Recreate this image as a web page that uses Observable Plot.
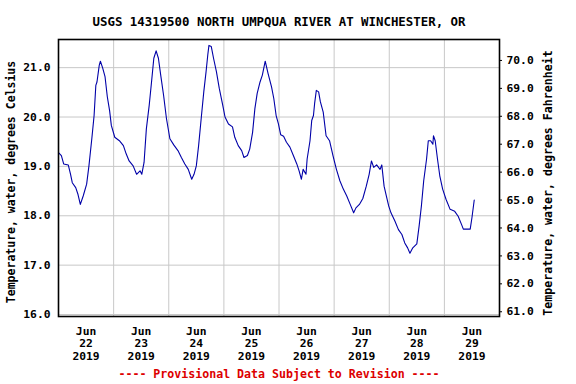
<!DOCTYPE html>
<html><head><meta charset="utf-8">
<script src="https://cdn.jsdelivr.net/npm/d3@7"></script>
<script src="https://cdn.jsdelivr.net/npm/@observablehq/plot@0.6"></script>
<style>html,body{margin:0;padding:0;background:#fff} svg{display:block}</style>
</head><body><div id="chart"></div>
<script>
const title = "USGS 14319500 NORTH UMPQUA RIVER AT WINCHESTER, OR";
const caption = "---- Provisional Data Subject to Revision ----";
const yLabelLeft = "Temperature, water, degrees Celsius";
const yLabelRight = "Temperature, water, degrees Fahrenheit";

const times = [
 "06-22T00:00","06-22T01:15","06-22T02:15","06-22T04:15","06-22T05:15","06-22T06:00","06-22T07:30","06-22T08:30","06-22T09:30","06-22T10:45","06-22T12:15","06-22T13:15","06-22T14:30","06-22T15:30","06-22T16:15","06-22T16:45","06-22T17:45","06-22T18:15","06-22T19:15","06-22T20:15","06-22T21:15","06-22T22:15","06-22T23:00",
 "06-23T00:30","06-23T02:30","06-23T04:15","06-23T05:30","06-23T06:45","06-23T08:30","06-23T10:00","06-23T11:30","06-23T12:15","06-23T13:15","06-23T14:15","06-23T15:30","06-23T16:30","06-23T17:30","06-23T18:30","06-23T19:30","06-23T20:30","06-23T21:45","06-23T23:00",
 "06-24T00:30","06-24T02:15","06-24T04:00","06-24T05:30","06-24T07:00","06-24T08:30","06-24T10:00","06-24T11:00","06-24T12:00","06-24T13:00","06-24T14:15","06-24T15:15","06-24T16:15","06-24T17:00","06-24T17:30","06-24T18:30","06-24T19:30","06-24T20:45","06-24T22:00","06-24T23:30",
 "06-25T00:30","06-25T02:00","06-25T03:45","06-25T04:45","06-25T06:15","06-25T07:45","06-25T08:45","06-25T10:15","06-25T11:15","06-25T12:30","06-25T13:30","06-25T14:30","06-25T15:45","06-25T16:45","06-25T18:00","06-25T19:15","06-25T20:45","06-25T21:45","06-25T22:45","06-25T23:45",
 "06-26T00:45","06-26T02:00","06-26T03:15","06-26T04:45","06-26T06:15","06-26T07:45","06-26T08:45","06-26T09:45","06-26T10:30","06-26T11:45","06-26T12:15","06-26T13:30","06-26T14:15","06-26T15:00","06-26T15:30","06-26T16:15","06-26T17:15","06-26T18:00","06-26T19:15","06-26T20:30","06-26T22:00","06-26T23:30",
 "06-27T01:00","06-27T02:30","06-27T04:00","06-27T05:30","06-27T07:00","06-27T08:30","06-27T09:30","06-27T11:00","06-27T12:30","06-27T14:00","06-27T15:15","06-27T16:15","06-27T17:15","06-27T18:30","06-27T20:00","06-27T20:45","06-27T21:45","06-27T22:45","06-27T23:45",
 "06-28T00:45","06-28T02:30","06-28T04:00","06-28T05:30","06-28T06:45","06-28T08:00","06-28T09:00","06-28T10:15","06-28T12:00","06-28T13:00","06-28T14:00","06-28T15:00","06-28T16:15","06-28T17:00","06-28T18:00","06-28T19:00","06-28T19:15","06-28T20:00","06-28T21:00","06-28T22:00","06-28T23:15",
 "06-29T00:45","06-29T02:30","06-29T04:30","06-29T06:00","06-29T07:30","06-29T08:15","06-29T11:15","06-29T12:00","06-29T13:00"
];
const tempC = [
 19.28,19.22,19.05,19.03,18.84,18.67,18.57,18.43,18.23,18.40,18.64,19.01,19.56,20.03,20.64,20.71,21.05,21.13,20.99,20.82,20.41,20.13,19.83,
 19.59,19.52,19.42,19.25,19.11,19.01,18.84,18.91,18.84,19.08,19.76,20.24,20.71,21.19,21.34,21.19,20.85,20.44,19.97,
 19.56,19.43,19.32,19.18,19.05,18.94,18.74,18.84,19.01,19.42,20.03,20.51,20.92,21.26,21.45,21.43,21.19,20.92,20.58,20.24,
 20.00,19.86,19.80,19.59,19.42,19.32,19.18,19.22,19.35,19.69,20.17,20.48,20.71,20.85,21.13,20.88,20.61,20.37,20.03,19.86,
 19.64,19.61,19.49,19.39,19.22,19.05,18.91,18.74,18.94,18.84,19.15,19.52,19.93,20.03,20.27,20.54,20.51,20.31,20.10,19.62,19.52,19.22,
 18.94,18.71,18.54,18.40,18.23,18.06,18.16,18.23,18.35,18.60,18.84,19.11,18.98,19.03,18.94,19.03,18.60,18.40,18.20,
 18.06,17.89,17.72,17.62,17.45,17.35,17.24,17.35,17.43,17.79,18.20,18.71,19.15,19.52,19.52,19.45,19.62,19.52,19.15,18.81,18.54,
 18.33,18.13,18.09,17.99,17.82,17.73,17.73,17.96,18.32
];

const cTicks = [16, 17, 18, 19, 20, 21];
const fTicks = [61, 62, 63, 64, 65, 66, 67, 68, 69, 70];
const days = [22, 23, 24, 25, 26, 27, 28, 29];
const cDomain = [15.96, 21.57];
const fDomain = [60.83, 70.75];

const data = times.map((t, i) => ({date: new Date(`2019-${t}:00Z`), c: tempC[i]}));
const fToC = f => cDomain[0] + (f - fDomain[0]) / (fDomain[1] - fDomain[0]) * (cDomain[1] - cDomain[0]);
const cToF = c => fDomain[0] + (c - cDomain[0]) / (cDomain[1] - cDomain[0]) * (fDomain[1] - fDomain[0]);
const noons = days.map(d => new Date(Date.UTC(2019, 5, d, 12)));
const midnights = days.slice(1).map(d => new Date(Date.UTC(2019, 5, d, 0)));

const chart = Plot.plot({
  width: 576,
  height: 384,
  marginLeft: 58,
  marginRight: 77,
  marginTop: 39,
  marginBottom: 68,
  style: {fontFamily: "'DejaVu Sans Mono', monospace", fontWeight: "bold", fontSize: "11.3px", color: "#000", background: "#fff"},
  x: {type: "utc", domain: [new Date(Date.UTC(2019, 5, 22)), new Date(Date.UTC(2019, 5, 30))]},
  y: {domain: cDomain},
  marks: [
    Plot.gridY({ticks: cTicks, stroke: "#c8c8c8", strokeOpacity: 1, strokeWidth: 1}),
    Plot.gridX({ticks: midnights, stroke: "#c8c8c8", strokeOpacity: 1, strokeWidth: 1}),
    Plot.line(data, {x: "date", y: "c", stroke: "#0000a8", strokeWidth: 1.1}),
    Plot.frame({stroke: "#000", strokeWidth: 1.6}),
    Plot.axisY({anchor: "left", ticks: cTicks, tickSize: 0, tickPadding: 8, tickFormat: d => d.toFixed(1), label: null, fontSize: 11.3}),
    Plot.axisY({anchor: "right", ticks: fTicks.map(fToC), tickSize: 2, tickPadding: 5, tickFormat: c => Math.round(cToF(c)).toFixed(1), label: null, fontSize: 11.3}),
    Plot.axisX({ticks: noons, tickSize: 0, tickPadding: 9, tickFormat: d => `Jun\n${d.getUTCDate()}\n2019`, lineHeight: 1.13, label: null, fontSize: 11.3}),
    Plot.text([title], {frameAnchor: "top", dy: -22, fontSize: 12.4, fill: "#000"}),
    Plot.text([caption], {frameAnchor: "bottom", dy: 61, fontSize: 11.6, fill: "#dd0000"})
  ]
});
const svg = d3.select(chart);
const addLabel = (txt, x, y, size) => svg.append("text")
  .attr("transform", `translate(${x},${y}) rotate(-90)`)
  .attr("text-anchor", "middle")
  .attr("dy", "0.35em")
  .attr("font-size", size)
  .attr("font-weight", "bold")
  .attr("fill", "#000")
  .text(txt);
addLabel(yLabelLeft, 11, 182, 11.5);
addLabel(yLabelRight, 548, 183, 11.6);
document.getElementById("chart").appendChild(chart);
</script>
</body></html>
